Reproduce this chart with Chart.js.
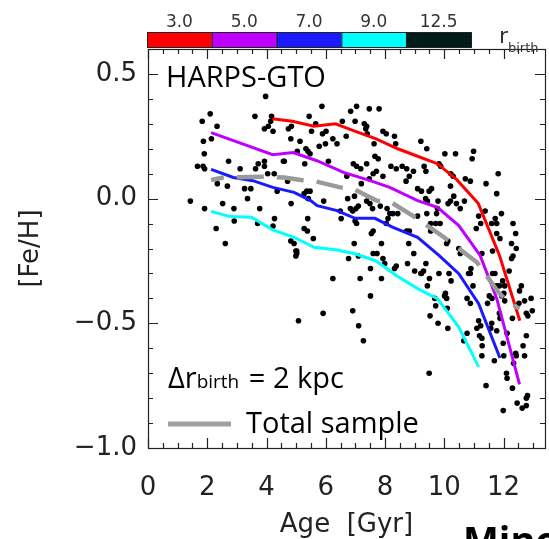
<!DOCTYPE html>
<html>
<head>
<meta charset="utf-8">
<script src="https://cdn.jsdelivr.net/npm/chart.js@4.4.1/dist/chart.umd.min.js"></script>
<style>
  html, body { margin: 0; padding: 0; background: #fff; }
  canvas { display: block; }
</style>
</head>
<body>
<canvas id="chart" width="549" height="539"></canvas>
<script>
// stars: age [Gyr] and [Fe/H]
const starAge = [
  3.97, 2.10, 1.83, 2.33, 3.61, 4.17, 4.14, 3.93, 4.06, 4.22, 2.14, 1.87, 1.90, 1.67, 1.86, 1.91, 2.72, 3.11, 3.63, 3.72,
  3.93, 3.93, 4.04, 4.26, 4.57, 2.34, 2.68, 3.26, 3.47, 3.36, 4.36, 1.43, 1.91, 2.52, 2.90, 3.77, 2.91, 3.70, 4.27, 4.22,
  2.30, 2.61,
  5.87, 7.04, 6.84, 7.47, 7.80, 5.44, 6.99, 6.56, 7.30, 7.35, 7.40, 7.38, 5.66, 4.74, 4.84, 5.52, 5.89, 6.01, 6.69, 7.93,
  8.04, 8.32, 4.82, 5.13, 6.24, 6.38, 5.99, 5.78, 7.63, 8.36, 5.33, 5.40, 5.47, 5.04, 7.66, 7.77, 4.60, 5.29, 6.09, 6.93,
  7.04, 7.38, 7.18, 8.20, 8.38, 8.58, 8.73, 8.96, 8.82, 7.60, 7.71, 7.93, 7.47, 8.71, 6.71, 4.71, 7.20, 5.36, 5.47, 5.27,
  6.74, 6.97, 4.83, 5.93, 5.41, 7.38, 7.49, 7.84, 6.83, 6.91, 7.02, 7.10, 6.49, 6.52, 7.58, 8.07, 8.16, 8.10, 8.27, 8.43,
  5.39, 6.99, 7.04, 5.27, 5.38, 5.58, 7.54, 7.60, 8.04, 8.73, 8.82, 8.80, 4.82, 4.93, 5.02, 6.96, 7.88, 5.02,
  9.21, 9.41, 10.02, 10.38, 10.99, 10.94, 9.32, 9.38, 9.82, 9.88, 10.22, 10.30, 10.71, 10.88, 11.82, 11.41, 10.21, 11.77, 9.10, 9.23,
  9.49, 9.57, 10.32, 10.68, 9.37, 9.43, 9.79, 10.13, 10.21, 10.41, 10.54, 9.77, 9.10, 9.41, 9.74, 9.54, 9.71, 9.86, 11.38, 11.16,
  11.23, 11.08, 11.72, 11.93, 11.60, 11.77, 12.32, 12.41, 9.54, 10.08, 10.12, 11.77, 11.88, 11.63, 12.27, 12.43, 10.49, 10.54, 11.27,
  4.99, 4.99, 6.77, 7.10, 7.60, 7.73, 7.51, 7.93, 7.99, 8.38, 8.32, 8.76, 8.97, 9.00, 9.21, 6.24, 7.16, 7.88, 7.51, 6.91,
  5.91, 5.08, 7.11, 7.27,
  9.38, 9.23, 9.30, 9.82, 10.16, 9.50, 9.43, 10.23, 9.68, 9.71, 10.04, 10.01, 10.08, 10.10, 9.52, 9.79, 10.12, 10.82, 10.90, 10.88,
  10.97, 10.77, 10.88, 11.46, 11.52, 11.61, 11.16, 11.23, 11.10, 11.19, 11.27, 10.77, 10.66, 11.28, 11.27, 11.69, 11.60, 11.57, 11.77, 11.88,
  11.99, 12.01, 12.12, 11.63, 11.71, 11.68, 11.77, 11.86, 12.04, 11.97, 11.94, 12.01, 12.04, 11.86, 12.19, 12.27, 12.32, 12.60, 12.54, 12.52,
  12.71, 12.93, 12.77, 12.82, 12.97, 12.30, 12.77, 12.66, 12.71, 12.41, 12.43, 12.34, 12.10, 12.12, 12.30, 9.49, 11.41, 12.81, 12.77, 12.46,
  12.63, 12.77, 11.99
];
const starFeH = [
  0.41, 0.34, 0.31, 0.29, 0.33, 0.33, 0.31, 0.28, 0.29, 0.27, 0.24, 0.23, 0.18, 0.13, 0.13, 0.12, 0.15, 0.12, 0.12, 0.14,
  0.15, 0.13, 0.10, 0.10, 0.15, 0.06, 0.05, 0.04, 0.04, 0.00, 0.03, -0.01, -0.04, -0.02, -0.04, -0.04, -0.09, -0.10, -0.08, -0.11,
  -0.12, -0.18,
  0.37, 0.37, 0.35, 0.36, 0.36, 0.33, 0.31, 0.31, 0.30, 0.28, 0.26, 0.29, 0.30, 0.28, 0.29, 0.27, 0.26, 0.27, 0.25, 0.27,
  0.26, 0.25, 0.24, 0.23, 0.24, 0.22, 0.22, 0.21, 0.22, 0.22, 0.20, 0.19, 0.18, 0.19, 0.17, 0.16, 0.15, 0.14, 0.15, 0.14,
  0.13, 0.14, 0.12, 0.13, 0.12, 0.13, 0.12, 0.11, 0.09, 0.10, 0.11, 0.09, 0.08, 0.07, 0.09, 0.07, 0.06, 0.03, 0.03, 0.02,
  0.00, 0.01, -0.02, -0.01, 0.00, -0.01, -0.02, -0.03, -0.04, -0.05, -0.04, -0.03, -0.05, -0.08, -0.04, -0.04, -0.06, -0.08, -0.06, -0.06,
  -0.08, -0.09, -0.10, -0.12, -0.13, -0.16, -0.14, -0.13, -0.10, -0.13, -0.13, -0.18, -0.17, -0.18, -0.21, -0.18, -0.18, -0.22,
  0.23, 0.20, 0.18, 0.18, 0.19, 0.16, 0.13, 0.11, 0.14, 0.13, 0.10, 0.09, 0.08, 0.07, 0.10, 0.06, 0.05, 0.02, 0.04, 0.03,
  0.03, 0.04, 0.01, -0.01, 0.00, -0.01, -0.01, -0.02, -0.01, -0.02, -0.04, -0.04, -0.07, -0.06, -0.06, -0.10, -0.10, -0.10, -0.05, -0.07,
  -0.10, -0.12, -0.08, -0.06, -0.10, -0.10, -0.10, -0.14, -0.13, -0.18, -0.17, -0.14, -0.16, -0.21, -0.18, -0.20, -0.20, -0.22, -0.22,
  -0.21, -0.23, -0.24, -0.23, -0.22, -0.22, -0.28, -0.24, -0.26, -0.27, -0.28, -0.26, -0.22, -0.29, -0.30, -0.32, -0.32, -0.32, -0.39, -0.45,
  -0.46, -0.49, -0.51, -0.57,
  -0.26, -0.30, -0.29, -0.30, -0.30, -0.32, -0.35, -0.33, -0.40, -0.43, -0.38, -0.39, -0.40, -0.44, -0.47, -0.50, -0.52, -0.30, -0.28, -0.30,
  -0.35, -0.40, -0.42, -0.42, -0.39, -0.40, -0.49, -0.51, -0.52, -0.55, -0.56, -0.54, -0.57, -0.59, -0.63, -0.65, -0.50, -0.52, -0.53, -0.48,
  -0.58, -0.63, -0.54, -0.30, -0.30, -0.35, -0.35, -0.35, -0.35, -0.33, -0.39, -0.38, -0.41, -0.46, -0.29, -0.24, -0.23, -0.35, -0.37, -0.42,
  -0.41, -0.40, -0.46, -0.47, -0.45, -0.48, -0.55, -0.59, -0.63, -0.62, -0.63, -0.66, -0.70, -0.72, -0.76, -0.70, -0.75, -0.79, -0.80, -0.82,
  -0.84, -0.83, -0.85
];

// mean trends per birth-radius bin
const redAge = [4.20, 4.87, 5.60, 6.33, 7.00, 7.70, 8.43, 9.10, 9.77, 10.43, 11.15, 11.87, 12.55];
const redFeH = [0.32, 0.31, 0.29, 0.30, 0.27, 0.24, 0.20, 0.17, 0.14, 0.075, -0.02, -0.23, -0.49];
const magentaAge = [2.13, 4.21, 4.90, 5.70, 6.60, 7.50, 8.16, 9.10, 9.77, 10.49, 11.21, 11.38, 11.77, 12.54];
const magentaFeH = [0.265, 0.176, 0.185, 0.152, 0.105, 0.072, 0.045, -0.008, -0.035, -0.108, -0.228, -0.28, -0.40, -0.745];
const blueAge = [2.13, 2.88, 3.54, 4.21, 4.93, 5.49, 5.71, 6.38, 6.99, 7.66, 8.27, 9.10, 9.82, 10.49, 11.16, 11.88];
const blueFeH = [0.117, 0.085, 0.072, 0.045, 0.025, -0.008, -0.028, -0.048, -0.079, -0.079, -0.115, -0.155, -0.228, -0.301, -0.421, -0.639];
const cyanAge = [2.13, 2.77, 3.49, 4.21, 4.93, 5.60, 6.33, 6.99, 7.70, 8.38, 9.10, 9.77, 10.49, 11.16];
const cyanFeH = [-0.051, -0.072, -0.075, -0.125, -0.155, -0.195, -0.205, -0.221, -0.25, -0.308, -0.361, -0.401, -0.515, -0.675];
const totalAge = [2.13, 2.54, 3.88, 4.60, 5.16, 5.66, 6.49, 6.93, 7.71, 8.21, 8.93, 9.27, 9.99, 10.43, 10.88, 11.10, 11.38, 11.82, 12.16, 12.54];
const totalFeH = [0.075, 0.085, 0.088, 0.085, 0.075, 0.069, 0.045, 0.039, -0.008, -0.015, -0.068, -0.095, -0.155, -0.195, -0.235, -0.255, -0.301, -0.375, -0.415, -0.441];

// colour bar (r_birth bins)
const rbirthLabels = ['3.0', '5.0', '7.0', '9.0', '12.5'];
const rbirthColors = ['#ff0000', '#bf00ff', '#1a1aff', '#00ffff', '#021c1c'];

const xTickValues = [0, 2, 4, 6, 8, 10, 12];
const yTickValues = [-1.0, -0.5, 0.0, 0.5];

const AXIS_FONT = { family: "'DejaVu Sans ExtraLight', 'DejaVu Sans'", size: 26 };
const TEXT_FONT = 'Open Sans';

function pts(xs, ys) {
    return xs.map((x, i) => ({ x, y: ys[i] }));
}

function trend(label, xs, ys, color, order) {
    return {
        label,
        data: pts(xs, ys),
        showLine: true,
        borderColor: color,
        borderWidth: 3,
        pointRadius: 0,
        tension: 0,
        order
    };
}

// IDL-style frame with inward ticks on all four sides
const frameTicks = {
    id: 'frameTicks',
    afterDatasetsDraw(chart) {
        const { ctx, chartArea: a, scales: { x, y } } = chart;
        ctx.save();
        ctx.strokeStyle = '#222';
        ctx.lineWidth = 1.2;
        ctx.beginPath();
        for (let i = 0; i <= 26; i++) {
            const px = Math.round(x.getPixelForValue(i / 2)) + 0.5;
            const len = i % 4 === 0 ? 10 : 5;
            ctx.moveTo(px, a.bottom); ctx.lineTo(px, a.bottom - len);
            ctx.moveTo(px, a.top); ctx.lineTo(px, a.top + len);
        }
        for (let i = -10; i <= 6; i++) {
            const py = Math.round(y.getPixelForValue(i / 10)) + 0.5;
            const len = i % 5 === 0 ? 10 : 5;
            ctx.moveTo(a.left, py); ctx.lineTo(a.left + len, py);
            ctx.moveTo(a.right, py); ctx.lineTo(a.right - len, py);
        }
        ctx.stroke();
        ctx.strokeRect(a.left + 0.5, a.top + 0.5, a.right - a.left, a.bottom - a.top);
        ctx.restore();
    }
};

// colour bar, labels, legend
const annotations = {
    id: 'annotations',
    afterDraw(chart) {
        const ctx = chart.ctx;
        ctx.save();
        // colour bar
        const x0 = 147, w = 64.8, top = 32, h = 15;
        rbirthColors.forEach((c, i) => {
            ctx.fillStyle = c;
            ctx.fillRect(x0 + i * w, top, w, h);
            ctx.strokeStyle = '#222';
            ctx.lineWidth = 1;
            ctx.strokeRect(x0 + i * w + 0.5, top + 0.5, w, h);
        });
        ctx.fillStyle = '#333';
        ctx.font = `17px ${AXIS_FONT.family}`;
        ctx.textAlign = 'center';
        ctx.textBaseline = 'alphabetic';
        rbirthLabels.forEach((t, i) => ctx.fillText(t, x0 + (i + 0.5) * w, 27));
        ctx.textAlign = 'left';
        ctx.font = `22px ${AXIS_FONT.family}`;
        ctx.fillText('r', 499, 43);
        ctx.font = `13px ${AXIS_FONT.family}`;
        ctx.fillText('birth', 508, 52);

        // panel texts
        ctx.fillStyle = '#000';
        ctx.font = `29px "${TEXT_FONT}"`;
        ctx.fillText('HARPS-GTO', 166, 87);

        let tx = 168;
        ctx.fillText('Δr', tx, 388);
        tx += ctx.measureText('Δr').width;
        ctx.font = `19px "${TEXT_FONT}"`;
        ctx.fillText('birth', tx, 388);
        tx += ctx.measureText('birth').width;
        ctx.font = `29px "${TEXT_FONT}"`;
        ctx.fillText(' = 2 kpc', tx + 2, 388);

        ctx.strokeStyle = '#a0a0a0';
        ctx.lineWidth = 5;
        ctx.beginPath();
        ctx.moveTo(168, 424);
        ctx.lineTo(231, 424);
        ctx.stroke();
        ctx.fillText('Total sample', 246, 433);

        // next panel title, cut off by the frame edge
        ctx.font = `bold 38px "${TEXT_FONT}"`;
        ctx.fillText('Mino', 463, 554);
        ctx.restore();
    }
};

new Chart(document.getElementById('chart'), {
    type: 'scatter',
    data: {
        datasets: [
            {
                label: 'Total sample',
                data: pts(totalAge, totalFeH),
                showLine: true,
                borderColor: '#9a9a9a',
                borderWidth: 4.5,
                borderDash: [27, 13],
                borderDashOffset: 14,
                pointRadius: 0,
                tension: 0,
                order: 1
            },
            trend('3.0', redAge, redFeH, rbirthColors[0], 2),
            trend('5.0', magentaAge, magentaFeH, rbirthColors[1], 2),
            trend('7.0', blueAge, blueFeH, rbirthColors[2], 2),
            trend('9.0', cyanAge, cyanFeH, rbirthColors[3], 2),
            {
                label: 'stars',
                data: pts(starAge, starFeH),
                pointRadius: 2.8,
                pointBackgroundColor: '#000',
                pointBorderWidth: 0,
                order: 5
            }
        ]
    },
    options: {
        responsive: false,
        animation: false,
        layout: { padding: { left: 0, right: 0, top: 49, bottom: 0 } },
        plugins: {
            legend: { display: false },
            tooltip: { enabled: false }
        },
        scales: {
            x: {
                type: 'linear',
                min: 0,
                max: 13.4,
                grid: { display: false, drawTicks: false },
                border: { display: false },
                afterBuildTicks: s => { s.ticks = xTickValues.map(v => ({ value: v })); },
                afterFit: s => { s.height = 91; },
                ticks: {
                    font: AXIS_FONT,
                    color: '#222',
                    padding: 25,
                    maxRotation: 0,
                    callback: v => String(v)
                },
                title: {
                    display: true,
                    text: 'Age  [Gyr]',
                    font: AXIS_FONT,
                    color: '#222',
                    padding: { top: 0, bottom: -2 }
                }
            },
            y: {
                type: 'linear',
                min: -1.0,
                max: 0.6,
                grid: { display: false, drawTicks: false },
                border: { display: false },
                afterBuildTicks: s => { s.ticks = yTickValues.map(v => ({ value: v })); },
                afterFit: s => { s.width = 148; },
                ticks: {
                    font: AXIS_FONT,
                    color: '#222',
                    padding: 11,
                    callback: v => (v < 0 ? '\u2212' : '') + Math.abs(v).toFixed(1)
                },
                title: {
                    display: true,
                    text: '[Fe/H]',
                    font: AXIS_FONT,
                    color: '#222',
                    padding: { top: 16, bottom: 0 }
                }
            }
        }
    },
    plugins: [frameTicks, annotations]
});
</script>
</body>
</html>
